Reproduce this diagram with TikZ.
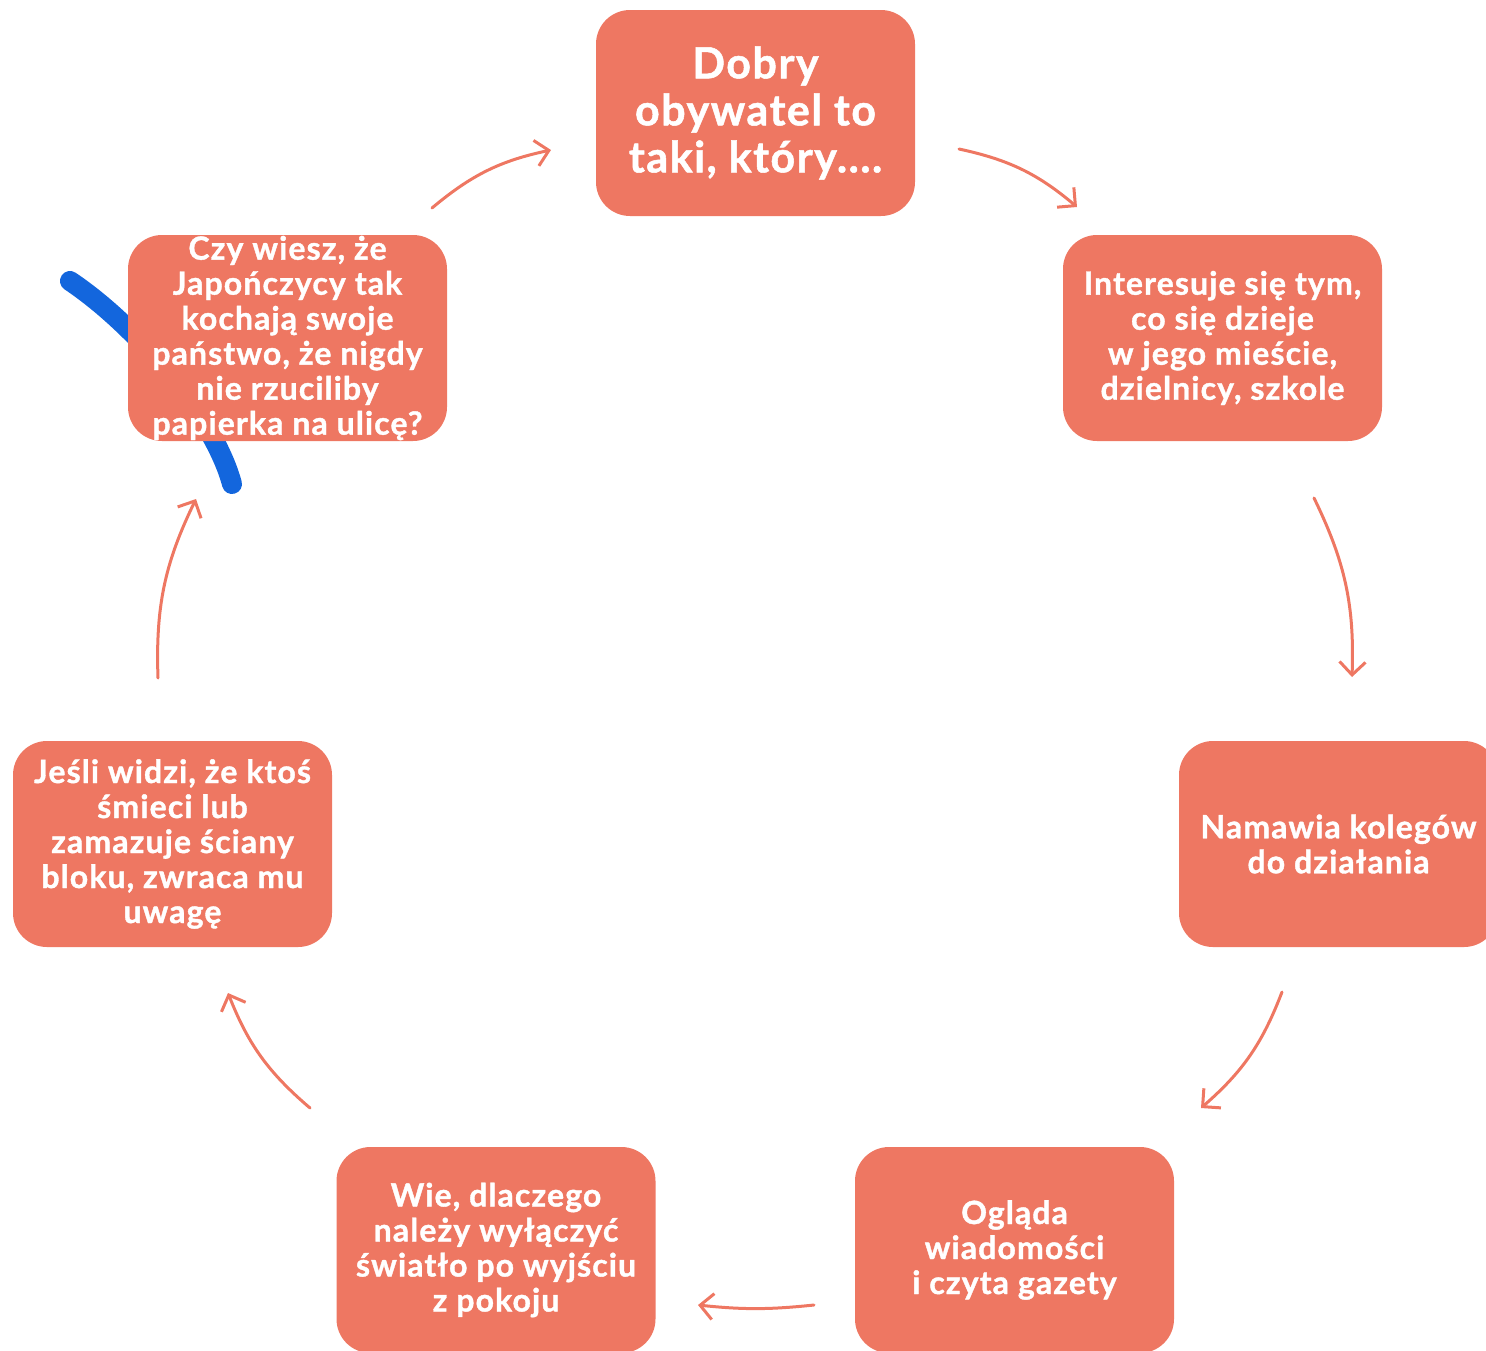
\documentclass[tikz,border=0pt]{standalone}
\usepackage{fontspec}
\setmainfont{Lato}[BoldFeatures={FakeBold=1.2,LetterSpace=3.5}]
\usetikzlibrary{arrows.meta}
\definecolor{salmon}{RGB}{238,119,98}
\definecolor{penblue}{RGB}{19,102,221}
\tikzset{
  card/.style={fill=salmon, rounded corners=34pt, minimum width=319pt, minimum height=206pt,
    inner sep=0pt, align=center, text=white, font=\bfseries\fontsize{32}{35}\selectfont},
  bigcard/.style={card, font=\bfseries\fontsize{43}{47}\selectfont},
  flow/.style={draw=salmon, line width=3pt, line cap=round,
    -{Straight Barb[length=13pt,width=26pt,line width=3pt]}, bend left=14},
  pen/.style={draw=penblue, line width=20pt, line cap=round}
}
\begin{document}
\begin{tikzpicture}[x=1pt,y=1pt]
\useasboundingbox (0,0) rectangle (1486,-1350);
\begin{scope}
\clip (0,0) rectangle (1486,-1350);
% blue pen stroke behind the card
\draw[pen] (70,-281) .. controls (140,-328) and (215,-420) .. (232,-484);

\node[bigcard] (top) at (755.5,-113) {Dobry\\obywatel to\\taki, który....};
\node[card] (r1) at (1222.5,-338) {Interesuje się tym,\\co się dzieje\\w jego mieście,\\dzielnicy, szkole};
\node[card] (r2) at (1338.5,-844) {Namawia kolegów\\do działania};
\node[card] (b1) at (1014.5,-1250) {Ogląda\\wiadomości\\i czyta gazety};
\node[card] (b2) at (496,-1250) {Wie, dlaczego\\należy wyłączyć\\światło po wyjściu\\z pokoju};
\node[card] (l1) at (172.5,-844) {Jeśli widzi, że ktoś\\śmieci lub\\zamazuje ściany\\bloku, zwraca mu\\uwagę};
\node[card] (l2) at (287.5,-338) {Czy wiesz, że\\Japończycy tak\\kochają swoje\\państwo, że nigdy\\nie rzuciliby\\papierka na ulicę?};
\end{scope}

\coordinate (a1s) at (432,-208);  \coordinate (a1e) at (551,-150);
\coordinate (a2s) at (959,-149);  \coordinate (a2e) at (1077,-207);
\coordinate (a3s) at (1314,-498); \coordinate (a3e) at (1352,-677);
\coordinate (a4s) at (1282,-992); \coordinate (a4e) at (1201,-1108);
\coordinate (a5s) at (814,-1305); \coordinate (a5e) at (698,-1305);
\coordinate (a6s) at (310,-1108); \coordinate (a6e) at (228,-993);
\coordinate (a7s) at (158,-678);  \coordinate (a7e) at (196,-499);

\draw[flow] (a1s) to (a1e);
\draw[flow] (a2s) to (a2e);
\draw[flow] (a3s) to (a3e);
\draw[flow] (a4s) to (a4e);
\draw[flow, bend left=6] (a5s) to (a5e);
\draw[flow] (a6s) to (a6e);
\draw[flow] (a7s) to (a7e);
\end{tikzpicture}
\end{document}
